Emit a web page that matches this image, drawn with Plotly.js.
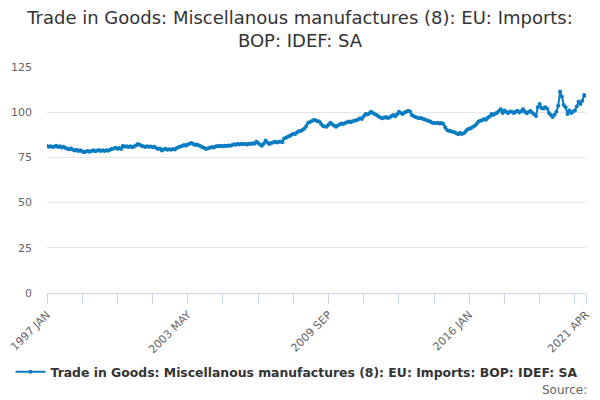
<!DOCTYPE html>
<html>
<head>
<meta charset="utf-8">
<script src="https://cdn.plot.ly/plotly-3.0.1.min.js"></script>
<style>
  html, body { margin: 0; padding: 0; background: #fff; }
  #chart { width: 600px; height: 400px; }
</style>
</head>
<body>
<div id="chart"></div>
<script>
// monthly series, 1997 JAN .. 2021 APR
const years = [1997, 1998, 1999, 2000, 2001, 2002, 2003, 2004, 2005, 2006, 2007, 2008,
  2009, 2010, 2011, 2012, 2013, 2014, 2015, 2016, 2017, 2018, 2019, 2020, 2021];
const monthNames = ['JAN', 'FEB', 'MAR', 'APR', 'MAY', 'JUN', 'JUL', 'AUG', 'SEP', 'OCT', 'NOV', 'DEC'];

const values = [
  // 1997
  81.3, 80.9, 81.2, 80.7, 81.0, 81.4, 80.8, 81.1, 80.5, 80.9, 80.2, 79.8,
  // 1998
  79.5, 79.9, 79.2, 78.8, 79.3, 78.6, 78.9, 78.3, 77.8, 78.2, 78.6, 78.1,
  // 1999
  78.5, 78.9, 78.4, 78.7, 79.1, 78.6, 78.9, 78.5, 79.0, 78.7, 79.2, 79.6,
  // 2000
  79.9, 80.3, 79.8, 80.2, 79.7, 81.5, 80.9, 81.2, 80.8, 81.1, 80.6, 81.0,
  // 2001
  81.6, 82.4, 82.0, 81.5, 81.1, 80.7, 81.2, 80.9, 81.0, 80.6, 80.9, 80.2,
  // 2002
  79.6, 79.9, 78.8, 79.4, 79.8, 79.2, 79.5, 79.3, 79.7, 79.4, 80.2, 80.6,
  // 2003
  81.0, 81.3, 81.8, 81.5, 82.1, 82.6, 83.0, 82.4, 81.9, 82.2, 81.6, 81.1,
  // 2004
  80.6, 80.2, 79.6, 80.0, 80.4, 80.8, 80.5, 81.0, 81.3, 81.1, 81.4, 81.2,
  // 2005
  81.5, 81.3, 81.6, 81.4, 81.9, 82.3, 82.0, 82.5, 82.2, 82.6, 82.3, 82.5,
  // 2006
  82.2, 82.6, 82.4, 82.8, 82.5, 83.7, 82.9, 82.1, 81.4, 82.6, 84.3, 83.2,
  // 2007
  82.4, 82.9, 83.3, 83.6, 83.2, 83.5, 83.8, 83.4, 85.5, 85.9, 86.4, 86.8,
  // 2008
  87.5, 88.1, 88.0, 88.9, 89.4, 89.6, 90.3, 91.0, 92.4, 94.2, 94.6, 95.2,
  // 2009
  95.7, 95.5, 95.0, 94.8, 93.5, 92.4, 92.1, 92.0, 93.1, 94.2, 93.4, 92.5,
  // 2010
  92.0, 92.6, 93.2, 93.8, 93.5, 94.0, 94.4, 94.8, 94.5, 95.0, 95.3, 95.6,
  // 2011
  95.9, 96.6, 96.3, 97.8, 99.0, 98.7, 99.4, 100.3, 99.6, 98.9, 98.4, 97.6,
  // 2012
  97.0, 96.6, 96.9, 97.3, 96.8, 97.0, 97.9, 98.5, 97.8, 98.9, 100.3, 99.6,
  // 2013
  99.0, 99.8, 100.2, 100.8, 100.4, 98.4, 97.8, 97.3, 96.9, 96.6, 96.8, 96.3,
  // 2014
  96.0, 95.6, 95.2, 94.8, 94.2, 94.0, 93.9, 94.1, 93.8, 94.0, 93.5, 91.5,
  // 2015
  90.2, 89.7, 89.5, 89.2, 88.9, 88.4, 87.8, 88.6, 88.0, 88.4, 89.3, 90.5,
  // 2016
  90.8, 91.3, 92.0, 92.5, 93.6, 94.8, 95.3, 95.6, 96.2, 95.8, 96.9, 97.6,
  // 2017
  99.0, 98.5, 99.3, 99.7, 100.6, 101.6, 99.5, 101.0, 100.1, 99.6, 100.4, 100.2,
  // 2018
  99.5, 100.3, 100.8, 99.8, 100.5, 101.6, 100.2, 99.4, 100.1, 100.6, 99.7, 98.9,
  // 2019
  97.9, 102.8, 104.5, 102.3, 102.0, 102.7, 102.1, 99.6, 98.4, 97.3, 98.6, 100.3,
  // 2020
  103.5, 111.4, 108.6, 104.0, 102.8, 99.0, 101.0, 99.5, 100.4, 101.0, 103.2, 105.8,
  // 2021
  104.5, 106.4, 109.5, 109.0
];

const seriesName = 'Trade in Goods: Miscellanous manufactures (8): EU: Imports: BOP: IDEF: SA';

const categories = [];
years.forEach(y => monthNames.forEach(m => categories.push(`${y} ${m}`)));
categories.length = values.length;

// tick every 19 months, label every 4th tick, plus the last month
const tickVals = [];
const tickText = [];
for (let i = 0; i < categories.length; i += 19) {
  tickVals.push(categories[i]);
  tickText.push(i % 76 === 0 ? categories[i] : '');
}
tickVals.push(categories[categories.length - 1]);
tickText.push(categories[categories.length - 1]);

const trace = {
  x: categories,
  y: values,
  type: 'scatter',
  mode: 'lines+markers',
  name: seriesName,
  line: { color: '#0a7cc1', width: 2 },
  marker: { color: '#0a7cc1', size: 4 },
  hoverinfo: 'skip'
};

const layout = {
  width: 600,
  height: 400,
  margin: { t: 67, b: 107, l: 47, r: 14 },
  paper_bgcolor: '#fff',
  plot_bgcolor: '#fff',
  font: { family: 'DejaVu Sans', color: '#666' },
  title: {
    text: 'Trade in Goods: Miscellanous manufactures (8): EU: Imports:<br>BOP: IDEF: SA',
    font: { family: 'DejaVu Sans', size: 18, color: '#333' },
    x: 0.5,
    xanchor: 'center',
    yref: 'container',
    y: 0.94,
    yanchor: 'top'
  },
  xaxis: {
    type: 'category',
    range: [0, categories.length - 1],
    tickmode: 'array',
    tickvals: tickVals,
    ticktext: tickText,
    tickangle: -45,
    ticks: 'outside',
    ticklen: 10,
    tickcolor: '#ccd6eb',
    tickfont: { size: 11, color: '#666' },
    showline: true,
    linecolor: '#ccd6eb',
    linewidth: 1,
    showgrid: false,
    zeroline: false,
    fixedrange: true
  },
  yaxis: {
    range: [0, 125],
    dtick: 25,
    tick0: 0,
    gridcolor: '#e6e6e6',
    zeroline: false,
    showline: false,
    ticklabelstandoff: 14,
    tickfont: { size: 11, color: '#666' },
    fixedrange: true
  },
  showlegend: true,
  legend: {
    orientation: 'h',
    x: 0.463,
    xanchor: 'center',
    y: -0.35,
    yanchor: 'middle',
    font: { family: 'DejaVu Sans', size: 12.4, color: '#333', weight: 'bold' },
    itemwidth: 30
  },
  annotations: [{
    text: 'Source:',
    xref: 'paper',
    yref: 'paper',
    x: 1,
    xshift: 3,
    y: -0.43,
    xanchor: 'right',
    yanchor: 'middle',
    showarrow: false,
    font: { family: 'DejaVu Sans', size: 12, color: '#666' }
  }]
};

Plotly.newPlot('chart', [trace], layout, { displayModeBar: false, staticPlot: true });
</script>
</body>
</html>
